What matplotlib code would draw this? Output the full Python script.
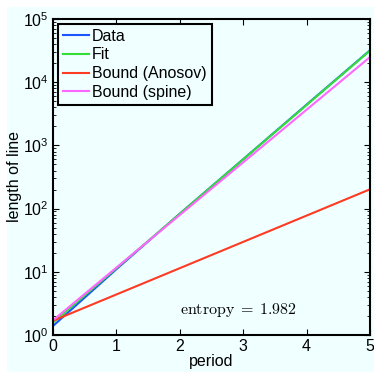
import matplotlib
matplotlib.use("Agg")
import matplotlib.pyplot as plt
import numpy as np
from matplotlib.patches import Rectangle
from matplotlib.ticker import LogLocator, NullFormatter

plt.rcParams['font.family'] = ['Liberation Sans', 'DejaVu Sans']
plt.rcParams['mathtext.fontset'] = 'cm'

# measured line lengths per period
period = np.array([0, 1, 2, 3, 4, 5])
length = np.array([1.39, 11.0, 83.0, 605.0, 4420.0, 32000.0])

entropy = 1.982
fit_x = np.array([0, 5])
fit_start = 1.57
fit_y = fit_start * np.exp(entropy * fit_x)

anosov_x = np.array([0, 5])
anosov_y = np.array([1.68, 202.0])

spine_x = np.array([0, 5])
spine_y = np.array([1.71, 25000.0])

bg = '#f0ffff'
fs = 11.5

fig = plt.figure(figsize=(3.74, 3.72), dpi=100, facecolor='white')
fig.patches.append(Rectangle((7 / 374, 0), 1, 1 - 7 / 372, transform=fig.transFigure,
                             facecolor=bg, edgecolor='none', zorder=-10))
ax = fig.add_axes([53 / 374, 1 - 335 / 372, 317 / 374, 316 / 372])
ax.set_facecolor(bg)

ax.plot(period, length, color='#1a55ff', lw=1.5, label='Data')
ax.plot(fit_x, fit_y, color='#33dd33', lw=1.5, label='Fit')
ax.plot(anosov_x, anosov_y, color='#ff3a22', lw=1.5, label='Bound (Anosov)')
ax.plot(spine_x, spine_y, color='#ff66ff', lw=1.5, label='Bound (spine)')

ax.set_yscale('log')
ax.set_xlim(0, 5)
ax.set_ylim(1, 1e5)
ax.set_xticks(range(6))
ax.yaxis.set_major_locator(LogLocator(base=10, numticks=10))
ax.yaxis.set_minor_locator(LogLocator(base=10, subs=np.arange(2, 10), numticks=20))
ax.yaxis.set_minor_formatter(NullFormatter())
ax.tick_params(which='both', direction='in', top=True, right=True, labelsize=fs, color='black')
ax.tick_params(which='major', length=4, width=0.8, pad=3)
ax.tick_params(which='minor', length=2.5, width=0.6)
for s in ax.spines.values():
    s.set_linewidth(1.5)

ax.set_xlabel('period', fontsize=fs, labelpad=0)
ax.set_ylabel('length of line', fontsize=fs, labelpad=1)

ax.text(2.0, 2.15, r'$\mathrm{entropy}\;=\;%.3f$' % entropy, fontsize=11.5,
        ha='left', va='baseline')

leg = ax.legend(loc='upper left', fontsize=fs, frameon=True, fancybox=False,
                borderaxespad=0.3, handlelength=1.65, handletextpad=0.2,
                labelspacing=0.24, borderpad=0.3)
leg.get_frame().set_edgecolor('black')
leg.get_frame().set_linewidth(1.5)
leg.get_frame().set_facecolor(bg)
leg.get_frame().set_alpha(1)

fig.savefig('out.png', dpi=100, facecolor=fig.get_facecolor())
